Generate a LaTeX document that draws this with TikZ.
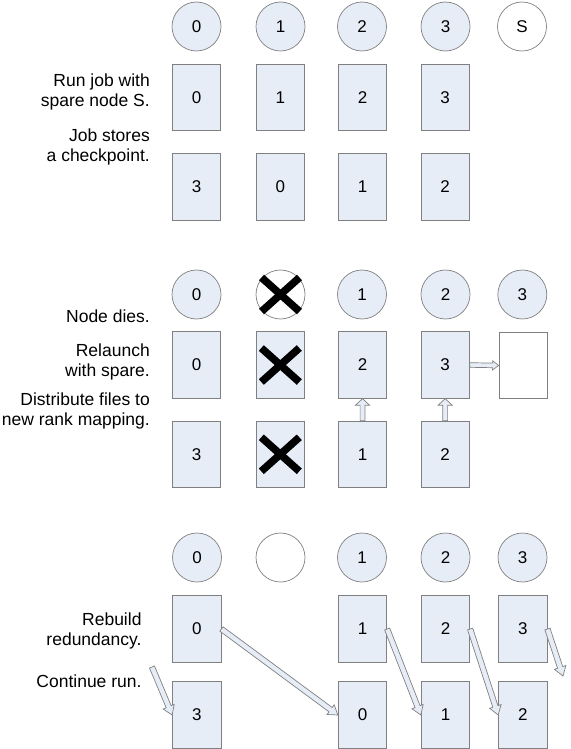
\documentclass[tikz,border=0pt]{standalone}
\usepackage{fontspec}
\setmainfont{Liberation Sans}
\usetikzlibrary{calc}
\definecolor{boxfill}{RGB}{231,237,247}
\definecolor{boxline}{RGB}{128,128,128}
\newcommand\crossout[1]{%
  \draw[dead] ($(#1)+(-19,-17)$) -- ($(#1)+(19,17)$);
  \draw[dead] ($(#1)+(-19,17)$) -- ($(#1)+(19,-17)$);}
\begin{document}
\begin{tikzpicture}[x=1pt,y=-1pt,
  every node/.style={font=\fontsize{17}{20}\selectfont},
  rank/.style={circle, draw=boxline, fill=boxfill, minimum size=49pt, inner sep=0pt, line width=0.7pt},
  spare/.style={rank, fill=white},
  file/.style={rectangle, draw=boxline, fill=boxfill, minimum width=48.5pt, minimum height=66.5pt, inner sep=0pt, line width=0.8pt},
  emptyfile/.style={file, fill=white},
  lbl/.style={align=right, inner sep=0pt, font=\fontsize{17.5}{20}\selectfont},
  dead/.style={line width=7.5pt, black},
  harrow/.style n args={3}{draw=boxline, fill=boxfill, line width=0.7pt, line join=miter,
    to path={let \p1=(\tikztostart), \p2=(\tikztotarget),
      \n1={atan2(\y2-\y1,\x2-\x1)}, \n2={veclen(\x2-\x1,\y2-\y1)} in
      ($(\p1)+({\n1+90}:#1)$)
      -- ($(\p1)+(\n1:{\n2*1pt-#3})+({\n1+90}:#1)$)
      -- ($(\p1)+(\n1:{\n2*1pt-#3})+({\n1+90}:#2)$)
      -- (\p2)
      -- ($(\p1)+(\n1:{\n2*1pt-#3})+({\n1-90}:#2)$)
      -- ($(\p1)+(\n1:{\n2*1pt-#3})+({\n1-90}:#1)$)
      -- ($(\p1)+({\n1-90}:#1)$) -- cycle}}
]
\useasboundingbox (0,0) rectangle (570,749);

% ---------- top section ----------
\node[rank]  (tc1) at (196.5,26.5) {0};
\node[rank]  (tc2) at (280.5,26.5) {1};
\node[rank]  (tc3) at (362,26.5) {2};
\node[rank]  (tc4) at (445.5,26.5) {3};
\node[spare] (tc5) at (522,26.5) {S};

\node[file] (ta1) at (196.5,97.5) {0};
\node[file] (ta2) at (280.3,97.5) {1};
\node[file] (ta3) at (362.5,97.5) {2};
\node[file] (ta4) at (445.2,97.5) {3};

\node[file] (tb1) at (196.5,186.7) {3};
\node[file] (tb2) at (280.3,186.7) {0};
\node[file] (tb3) at (362.5,186.7) {1};
\node[file] (tb4) at (445.2,186.7) {2};

\node[lbl, anchor=east] (l1) at (150,91.5) {Run job with\\spare node S.};
\node[lbl, anchor=east] (l2) at (150,147) {Job stores\\a checkpoint.};

% ---------- middle section ----------
\node[rank]  (mc1) at (196.5,294.5) {0};
\node[spare] (mc2) at (280.5,294.5) {};
\node[rank]  (mc3) at (362,294.5) {1};
\node[rank]  (mc4) at (445.5,294.5) {2};
\node[rank]  (mc5) at (522.3,294.5) {3};

\node[file] (ma1) at (196.5,365) {0};
\node[file] (ma2) at (280.3,365) {};
\node[file] (ma3) at (362.5,365) {2};
\node[file] (ma4) at (445.2,365) {3};
\node[emptyfile] (ma5) at (523.3,365.5) {};

\node[file] (mb1) at (196.5,454.3) {3};
\node[file] (mb2) at (280.3,454.3) {};
\node[file] (mb3) at (362.5,454.3) {1};
\node[file] (mb4) at (445.2,454.3) {2};

\crossout{mc2}
\crossout{ma2}
\crossout{mb2}

\draw[harrow={2.4pt}{7pt}{6.5pt}] (mb3.north) to (ma3.south);
\draw[harrow={2.4pt}{7pt}{6.5pt}] (mb4.north) to (ma4.south);
\draw[harrow={2.3pt}{4.5pt}{6pt}] (ma4.east) to (ma5.west);

\node[lbl, anchor=base east] (l3) at (150,322) {Node dies.};
\node[lbl, anchor=east] (l4) at (150,362.3) {Relaunch\\with spare.};
\node[lbl, anchor=east] (l5) at (150,410.6) {Distribute files to\\new rank mapping.};

% ---------- bottom section ----------
\node[rank]  (bc1) at (197,557.5) {0};
\node[spare] (bc2) at (280.5,557.5) {};
\node[rank]  (bc3) at (362,557.5) {1};
\node[rank]  (bc4) at (445.5,557.5) {2};
\node[rank]  (bc5) at (522.5,557.5) {3};

\node[file] (ba1) at (196.8,629) {0};
\node[file] (ba3) at (362.5,629) {1};
\node[file] (ba4) at (445.5,629) {2};
\node[file] (ba5) at (522.8,629) {3};

\node[file] (bb1) at (196.8,715) {3};
\node[file] (bb3) at (362.5,715) {0};
\node[file] (bb4) at (445.5,715) {1};
\node[file] (bb5) at (522.8,715) {2};

\coordinate (fin) at (152,667);
\coordinate (fout) at (563,676);

\draw[harrow={2.7pt}{6pt}{9pt}] (ba1.east) to (bb3.west);
\draw[harrow={2.7pt}{6pt}{9pt}] (ba3.east) to (bb4.west);
\draw[harrow={2.7pt}{6pt}{9pt}] (ba4.east) to (bb5.west);
\draw[harrow={2.7pt}{6pt}{9pt}] (ba5.east) to (fout);
\draw[harrow={2.7pt}{6pt}{9pt}] (fin) to (bb1.west);

\node[lbl, anchor=east] (l6) at (141.7,631.3) {Rebuild\\redundancy.};
\node[lbl, anchor=base east] (l7) at (141.7,687.5) {Continue run.};
\end{tikzpicture}
\end{document}
